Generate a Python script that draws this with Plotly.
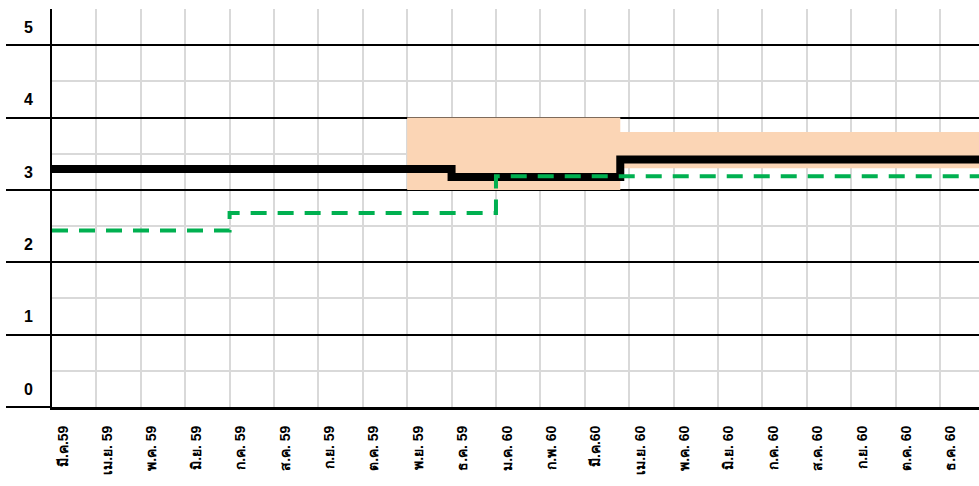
import plotly.graph_objects as go

# Month labels (Thai Buddhist-era years), one per month gridline
month_labels = [
    "มี.ค.59", "เม.ย. 59", "พ.ค. 59", "มิ.ย. 59", "ก.ค. 59", "ส.ค. 59",
    "ก.ย. 59", "ต.ค. 59", "พ.ย. 59", "ธ.ค. 59", "ม.ค. 60", "ก.พ. 60",
    "มี.ค.60", "เม.ย. 60", "พ.ค. 60", "มิ.ย. 60", "ก.ค. 60", "ส.ค. 60",
    "ก.ย. 60", "ต.ค. 60", "ธ.ค. 60",
]
month_pos = list(range(len(month_labels)))
x_end = 20.88

# Forecast range (shaded band), stepwise in months
band_x = [8, 12.8, x_end]
band_low = [3.0, 3.3, 3.3]
band_high = [4.0, 3.8, 3.8]

# Solid black series (step changes)
black_x = [0, 9, 12.8, x_end]
black_y = [3.29, 3.18, 3.42, 3.42]

# Dashed green series (step changes)
green_x = [0, 4, 10, x_end]
green_y = [2.44, 2.68, 3.19, 3.19]

y_ticks = [0, 1, 2, 3, 4, 5]

fig = go.Figure()

fig.add_trace(go.Scatter(
    x=band_x, y=band_low, mode="lines", line=dict(width=0, shape="hv"),
    hoverinfo="skip", showlegend=False,
))
fig.add_trace(go.Scatter(
    x=band_x, y=band_high, mode="lines", line=dict(width=0, shape="hv"),
    fill="tonexty", fillcolor="#FBD5B5", hoverinfo="skip", showlegend=False,
))
fig.add_trace(go.Scatter(
    x=black_x, y=black_y, mode="lines",
    line=dict(color="#000000", width=8, shape="hv"), showlegend=False,
))
fig.add_trace(go.Scatter(
    x=green_x, y=green_y, mode="lines",
    line=dict(color="#00B050", width=4, shape="hv", dash="16px,11px"),
    showlegend=False,
))

fig.update_layout(
    width=979, height=486,
    margin=dict(l=52, r=0, t=9, b=79),
    paper_bgcolor="white", plot_bgcolor="white",
    font=dict(family="Arial, 'Liberation Sans', sans-serif", color="#000000"),
)

fig.update_xaxes(
    range=[0, x_end],
    tickmode="array", tickvals=month_pos, ticktext=month_labels,
    tickangle=-90,
    tickfont=dict(size=14, family="Arial, 'Liberation Sans', sans-serif", weight="bold"),
    ticklabelshift=11, ticklabelstandoff=10,
    showgrid=True, gridcolor="#D9D9D9", gridwidth=2,
    showline=True, linecolor="#000000", linewidth=3,
    ticks="", zeroline=False,
)

fig.update_yaxes(
    range=[0, 5.5],
    tickmode="array", tickvals=y_ticks, ticktext=[str(v) for v in y_ticks],
    tickfont=dict(size=16, family="Arial, 'Liberation Sans', sans-serif", weight="bold"),
    ticks="outside", ticklen=44, tickwidth=2, tickcolor="#000000",
    ticklabelshift=-18, ticklabelstandoff=-30,
    showgrid=True, gridcolor="#000000", gridwidth=2,
    minor=dict(dtick=0.5, showgrid=True, gridcolor="#D9D9D9", gridwidth=2),
    showline=True, linecolor="#000000", linewidth=2,
    zeroline=False,
)

fig.write_html("out.html")
